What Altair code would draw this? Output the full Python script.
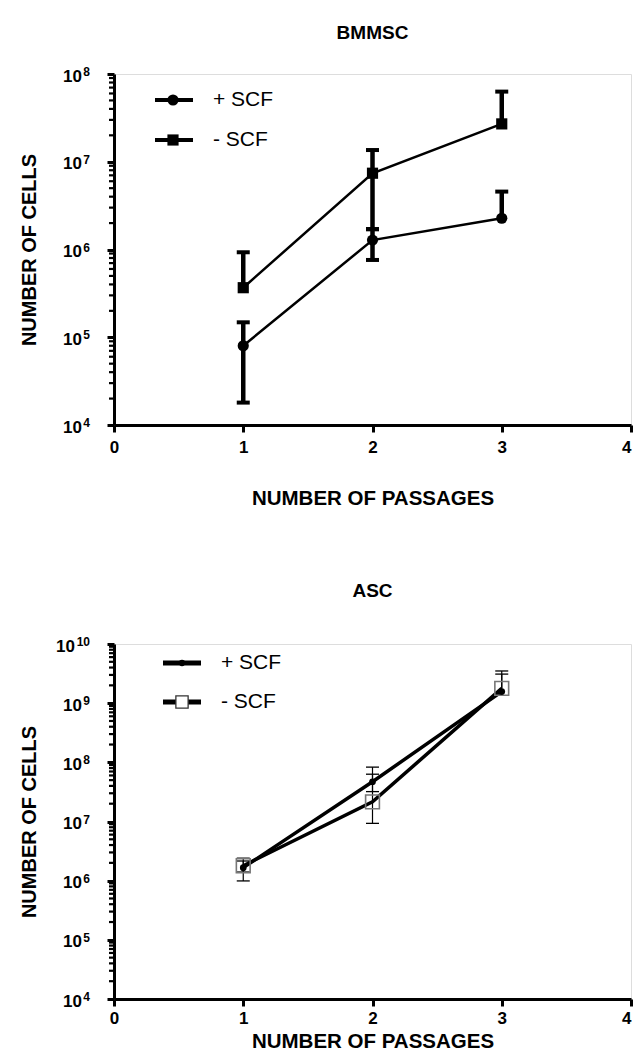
import altair as alt
import pandas as pd

# ---------------- data ----------------
passages = [1, 2, 3]
series = ["+ SCF", "- SCF"]

# BMMSC panel
bm_plus = [8.0e4, 1.28e6, 2.27e6]
bm_plus_lo = [1.8e4, 7.6e5, 2.27e6]
bm_plus_hi = [1.48e5, 1.71e6, 4.57e6]
bm_minus = [3.67e5, 7.4e6, 2.7e7]
bm_minus_lo = [3.67e5, 1.7e6, 2.7e7]
bm_minus_hi = [9.3e5, 1.36e7, 6.3e7]

# ASC panel
asc_plus = [1.66e6, 4.7e7, 1.57e9]
asc_plus_lo = [9.9e5, 3.2e7, 1.57e9]
asc_plus_hi = [2.4e6, 6.3e7, 3.1e9]
asc_minus = [1.79e6, 2.15e7, 1.78e9]
asc_minus_lo = [1.4e6, 9.3e6, 1.78e9]
asc_minus_hi = [2.15e6, 8.3e7, 3.5e9]

# tick labels
x_ticks = [0, 1, 2, 3, 4]
bm_y_major = [1e4, 1e5, 1e6, 1e7, 1e8]
bm_y_exp = ["4", "5", "6", "7", "8"]
asc_y_major = [1e4, 1e5, 1e6, 1e7, 1e8, 1e9, 1e10]
asc_y_exp = ["4", "5", "6", "7", "8", "9", "10"]
minor_multipliers = [2, 3, 4, 5, 6, 7, 8, 9]

FONT = "Liberation Sans"
W, H1, H2 = 517, 351, 355
LAB_RIGHT = -24      # right edge of the y tick labels, relative to the plot's left edge
EXP_W = 7            # width of one exponent digit
TICK_COLOR = "black"


def make_frame(plus, plus_lo, plus_hi, minus, minus_lo, minus_hi):
    rows = []
    for name, v, lo, hi in ((series[0], plus, plus_lo, plus_hi),
                            (series[1], minus, minus_lo, minus_hi)):
        for p, a, b, c in zip(passages, v, lo, hi):
            rows.append(dict(series=name, passage=p, value=a, lo=b, hi=c))
    return pd.DataFrame(rows)


def make_err(df):
    rows = []
    for _, r in df.iterrows():
        for end in (r["lo"], r["hi"]):
            if end != r["value"]:
                rows.append(dict(series=r["series"], passage=r["passage"],
                                 value=r["value"], end=end))
    return pd.DataFrame(rows)


def panel(df, title, majors, exps, height, st):
    ymax = majors[-1]
    minors = [m * e for e in majors[:-1] for m in minor_multipliers]

    x = alt.X("passage:Q",
              scale=alt.Scale(domain=[0, 4], nice=False),
              axis=alt.Axis(values=x_ticks, format="d", title="NUMBER OF PASSAGES",
                            grid=False, domainColor="black", domainWidth=3,
                            ticks=True, tickColor=TICK_COLOR, tickWidth=3, tickSize=7,
                            labelFont=FONT, labelFontSize=17, labelFontWeight="bold",
                            labelColor="black", labelPadding=st["x_lab_pad"],
                            labelFlush=False,
                            labelAlign={"condition": {"test": "datum.value == 4",
                                                      "value": "right"},
                                        "value": "center"},
                            titleFont=FONT, titleFontSize=20.5, titleFontWeight="bold",
                            titleColor="black", titlePadding=st["x_title_pad"]))
    y = alt.Y("value:Q",
              scale=alt.Scale(type="log", domain=[1e4, ymax], nice=False),
              axis=alt.Axis(values=majors, labels=False,
                            title="NUMBER OF CELLS", grid=False,
                            domainColor="black", domainWidth=3, ticks=True,
                            tickColor=TICK_COLOR, tickSize=7, tickWidth=3,
                            titleFont=FONT, titleFontSize=20, titleFontWeight="bold",
                            titleColor="black", titleX=-85, titleBaseline="middle"))

    base = alt.Chart(df)
    lines = base.mark_line(color="black", strokeWidth=st["line_w"]).encode(
        x=x, y=y, detail="series:N")
    layers = [lines]

    # minor ticks of the log axis
    minor_df = pd.DataFrame({"value": minors})
    layers.append(alt.Chart(minor_df).mark_rule(color=TICK_COLOR, strokeWidth=2.2).encode(
        x=alt.value(-5), x2=alt.value(0), y="value:Q"))

    # y tick labels: "10" with a raised exponent
    lab_df = pd.DataFrame({"value": majors, "exp": exps})
    for n in sorted(set(len(e) for e in exps)):
        sub = lab_df[lab_df["exp"].str.len() == n]
        layers.append(alt.Chart(sub).mark_text(
            align="right", baseline="middle", font=FONT, fontSize=17,
            fontWeight="bold", color="black", dy=2.5).encode(
            x=alt.value(LAB_RIGHT - EXP_W * n - 1), y="value:Q", text=alt.value("10")))
        layers.append(alt.Chart(sub).mark_text(
            align="right", baseline="middle", font=FONT, fontSize=12,
            fontWeight="bold", color="black", dy=-2).encode(
            x=alt.value(LAB_RIGHT), y="value:Q", text="exp:N"))

    err = make_err(df)
    ebase = alt.Chart(err)
    layers.append(ebase.mark_rule(color="black", strokeWidth=st["err_w"]).encode(
        x="passage:Q", y="end:Q", y2="value:Q"))
    layers.append(ebase.mark_tick(color="black", thickness=st["cap_t"], size=st["cap_w"],
                                  orient="horizontal", opacity=1).encode(
        x="passage:Q", y="end:Q"))

    for i in st["marker_order"]:
        sdf = df[df["series"] == series[i]]
        layers.append(alt.Chart(sdf).mark_point(**st["markers"][i]).encode(
            x="passage:Q", y="value:Q"))

    # legend drawn inside the plot
    for i, name in enumerate(series):
        ldf = pd.DataFrame({"series": [name]})
        ly = st["leg_y"][i]
        lb = alt.Chart(ldf)
        layers.append(lb.mark_rule(color="black", strokeWidth=st["leg_line_w"]).encode(
            x=alt.value(st["leg_x"][0]), x2=alt.value(st["leg_x"][1]), y=alt.value(ly)))
        layers.append(lb.mark_point(**st["leg_markers"][i]).encode(
            x=alt.value(st["leg_x"][2]), y=alt.value(ly)))
        layers.append(lb.mark_text(align="left", baseline="middle", font=FONT,
                                   fontSize=21, color="black").encode(
            x=alt.value(st["leg_x"][3]), y=alt.value(ly), text="series:N"))

    return alt.layer(*layers).properties(
        width=W, height=height,
        title=alt.TitleParams(title, font=FONT, fontSize=19, fontWeight="bold",
                              color="black", anchor="middle", frame="group",
                              offset=st["title_offset"]))


top_style = dict(
    line_w=2.5, err_w=4.5, cap_t=4, cap_w=13, x_lab_pad=7, x_title_pad=33,
    title_offset=23, marker_order=[0, 1],
    markers=[dict(shape="circle", filled=True, color="black", size=125, opacity=1),
             dict(shape="square", filled=True, color="black", size=125, opacity=1)],
    leg_markers=[dict(shape="circle", filled=True, color="black", size=125, opacity=1),
                 dict(shape="square", filled=True, color="black", size=125, opacity=1)],
    leg_y=[26, 66], leg_x=[41, 79, 59, 99], leg_line_w=4,
)
bot_style = dict(
    line_w=3.5, err_w=1.2, cap_t=1.3, cap_w=13, x_lab_pad=4, x_title_pad=5,
    title_offset=35, marker_order=[1, 0],
    markers=[dict(shape="circle", filled=True, color="black", size=45, opacity=1),
             dict(shape="square", filled=False, color="#777777", size=190,
                  strokeWidth=1.6, opacity=1)],
    leg_markers=[dict(shape="circle", filled=True, color="black", size=40, opacity=1),
                 dict(shape="square", filled=True, fill="white", stroke="#333333",
                      size=150, strokeWidth=1.3, opacity=1)],
    leg_y=[19, 58], leg_x=[49, 87, 68, 107], leg_line_w=5,
)

bm_df = make_frame(bm_plus, bm_plus_lo, bm_plus_hi, bm_minus, bm_minus_lo, bm_minus_hi)
asc_df = make_frame(asc_plus, asc_plus_lo, asc_plus_hi, asc_minus, asc_minus_lo, asc_minus_hi)

top = panel(bm_df, "BMMSC", bm_y_major, bm_y_exp, H1, top_style)
bottom = panel(asc_df, "ASC", asc_y_major, asc_y_exp, H2, bot_style)

chart = alt.vconcat(top, bottom, spacing=219, bounds="flush").properties(
    padding={"left": 10, "top": 15, "right": 0, "bottom": 0}
).configure_view(stroke=None).configure(background="white")

chart.save("out.html", embed_options={"renderer": "svg", "actions": False})
